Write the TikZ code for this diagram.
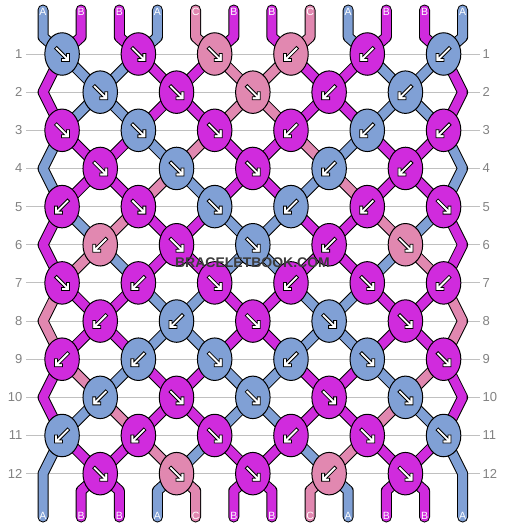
\documentclass[tikz,border=0pt]{standalone}
\usepackage{fontspec}
\setmainfont{Liberation Sans}
\usetikzlibrary{shapes.geometric}
\pgfdeclarelayer{bglayer}
\pgfdeclarelayer{strandlayer}
\pgfsetlayers{bglayer,strandlayer,main}
\definecolor{colA}{RGB}{128,160,213}
\definecolor{colB}{RGB}{208,43,221}
\definecolor{colC}{RGB}{225,136,176}
\definecolor{rowgray}{RGB}{130,130,130}
\definecolor{linegray}{RGB}{192,192,192}
\definecolor{wmgray}{RGB}{60,60,60}

% knots of one row: #1 row, #2 list colour/direction
\newcommand\knotrow[2]{%
  \foreach \c/\d [count=\k] in {#2}{%
    \pgfmathsetmacro\kx{43+38.15*(2*\k-1.5+mod(#1+1,2))}%
    \pgfmathsetmacro\ky{54+38.15*(#1-1)}%
    \node[knot=col\c] (N-#1-\k) at (\kx,\ky) {};
    \begin{scope}[shift={(\kx,\ky)}, xscale=\d]
      \draw[arrowmark] (7.5,7.5) -- (-0.5,7.5) -- (-0.5,4.5) -- (2.38,4.5)
        -- (-7.56,-5.44) -- (-5.44,-7.56) -- (4.5,2.38) -- (4.5,-0.5)
        -- (7.5,-0.5) -- cycle;
    \end{scope}
  }%
}

% strands leaving row #1 (0 = top ends), #2 colours of the 12 positions
\newcommand\strandrow[2]{%
  \foreach \c [count=\i] in {#2}{%
    \pgfmathsetmacro\xx{43+38.15*(\i-1)}%
    \pgfmathtruncatemacro\hi{(\i+1)/2}%
    \pgfmathtruncatemacro\lo{\i/2}%
    \pgfmathtruncatemacro\rn{#1+1}%
    \pgfmathtruncatemacro\rnn{#1+2}%
    \pgfmathtruncatemacro\odd{mod(#1,2)}%
    \pgfmathsetmacro\yn{54+38.15*#1}%
    \ifnum#1=0
      \coordinate (T\i) at (\xx,10);
      \draw[strand=col\c] (T\i) -- (\xx,37) -- (N-1-\hi.center);
    \else\ifnum#1=12
      \ifnum\i>1 \ifnum\i<12
        \coordinate (B\i) at (\xx,517);
        \draw[strand=col\c] (N-12-\lo.center) -- (\xx,490.65) -- (B\i);
      \fi\fi
    \else
      \ifnum\i=1
        \ifnum\odd=1
          \ifnum#1=11
            \coordinate (B1) at (\xx,517);
            \draw[strand=col\c] (N-11-1.center) -- (\xx,\yn) -- (B1);
          \else
            \draw[strand=col\c] (N-#1-1.center) -- (\xx,\yn) -- (N-\rnn-1.center);
          \fi
        \fi
      \else\ifnum\i=12
        \ifnum\odd=1
          \ifnum#1=11
            \coordinate (B12) at (\xx,517);
            \draw[strand=col\c] (N-11-6.center) -- (\xx,\yn) -- (B12);
          \else
            \draw[strand=col\c] (N-#1-6.center) -- (\xx,\yn) -- (N-\rnn-6.center);
          \fi
        \fi
      \else
        \ifnum\odd=1
          \draw[strand=col\c] (N-#1-\hi.center) -- (N-\rn-\lo.center);
        \else
          \draw[strand=col\c] (N-#1-\lo.center) -- (N-\rn-\hi.center);
        \fi
      \fi\fi
    \fi\fi
  }%
}

\begin{document}
\begin{tikzpicture}[x=1pt,y=-1pt,
  strand/.style={draw=black, line width=1pt, double=#1, double distance=9pt,
    line join=round, line cap=round},
  knot/.style={ellipse, draw=black, line width=1pt, fill=#1,
    minimum width=34.5pt, minimum height=42.5pt, inner sep=0pt},
  arrowmark/.style={fill=white, draw=black, line width=0.8pt, line join=miter},
  endlabel/.style={text=white, font=\fontsize{10.5}{11}\selectfont, inner sep=0pt},
  rowlabel/.style={text=rowgray, font=\fontsize{13}{14}\selectfont, inner sep=0pt},
  rowline/.style={draw=linegray, line width=1pt},
  watermark/.style={text=wmgray, font=\bfseries\fontsize{14}{15}\selectfont, inner sep=0pt}
]
\useasboundingbox (0,0) rectangle (506,528);
\begin{pgfonlayer}{bglayer}
  \fill[white] (0,0) rectangle (506,528);
  \foreach \r in {1,...,12}{
    \pgfmathsetmacro\yy{54+38.15*(\r-1)}
    \draw[rowline] (26,\yy) -- (480,\yy);
  }
\end{pgfonlayer}
\foreach \r in {1,...,12}{
  \pgfmathsetmacro\yy{54+38.15*(\r-1)}
  \node[rowlabel, anchor=east] (RL\r) at (22.5,\yy) {\r};
  \node[rowlabel, anchor=west] (RR\r) at (482.5,\yy) {\r};
}

% knots
\knotrow{1}{A/1,B/1,C/1,C/-1,B/-1,A/-1}
\knotrow{2}{A/1,B/1,C/1,B/-1,A/-1}
\knotrow{3}{B/1,A/1,B/1,B/-1,A/-1,B/-1}
\knotrow{4}{B/1,A/1,B/1,A/-1,B/-1}
\knotrow{5}{B/-1,B/1,A/1,A/-1,B/-1,B/1}
\knotrow{6}{C/-1,B/1,A/1,B/-1,C/1}
\knotrow{7}{B/1,B/-1,B/1,B/-1,B/1,B/-1}
\knotrow{8}{B/-1,A/-1,B/1,A/1,B/1}
\knotrow{9}{B/-1,A/-1,A/1,A/-1,A/1,B/1}
\knotrow{10}{A/-1,B/1,A/1,B/1,A/1}
\knotrow{11}{A/-1,B/-1,B/1,B/-1,B/1,A/1}
\knotrow{12}{B/1,C/1,B/1,C/-1,B/1}

% strands
\begin{pgfonlayer}{strandlayer}
\strandrow{0}{A,B,B,A,C,B,B,C,A,B,B,A}
\strandrow{1}{B,A,A,B,B,C,C,B,B,A,A,B}
\strandrow{2}{B,A,A,B,B,C,C,B,B,A,A,B}
\strandrow{3}{A,B,B,A,C,B,B,C,A,B,B,A}
\strandrow{4}{A,B,B,C,A,B,B,A,C,B,B,A}
\strandrow{5}{B,A,C,B,B,A,A,B,B,C,A,B}
\strandrow{6}{B,C,A,B,B,A,A,B,B,A,C,B}
\strandrow{7}{C,B,B,A,A,B,B,A,A,B,B,C}
\strandrow{8}{C,B,B,A,A,B,B,A,A,B,B,C}
\strandrow{9}{B,C,A,B,B,A,A,B,B,A,C,B}
\strandrow{10}{B,A,C,B,B,A,A,B,B,C,A,B}
\strandrow{11}{A,B,B,C,A,B,B,A,C,B,B,A}
\strandrow{12}{A,B,B,A,C,B,B,C,A,B,B,A}
\end{pgfonlayer}

% end labels
\foreach \c [count=\i] in {A,B,B,A,C,B,B,C,A,B,B,A}{
  \node[endlabel, yshift=-2pt] (TL\i) at (T\i) {\c};
  \node[endlabel, yshift=1pt] (BL\i) at (B\i) {\c};
}

\node[watermark] (WM) at (252.5,262.5) {BRACELETBOOK.COM};
\end{tikzpicture}
\end{document}
